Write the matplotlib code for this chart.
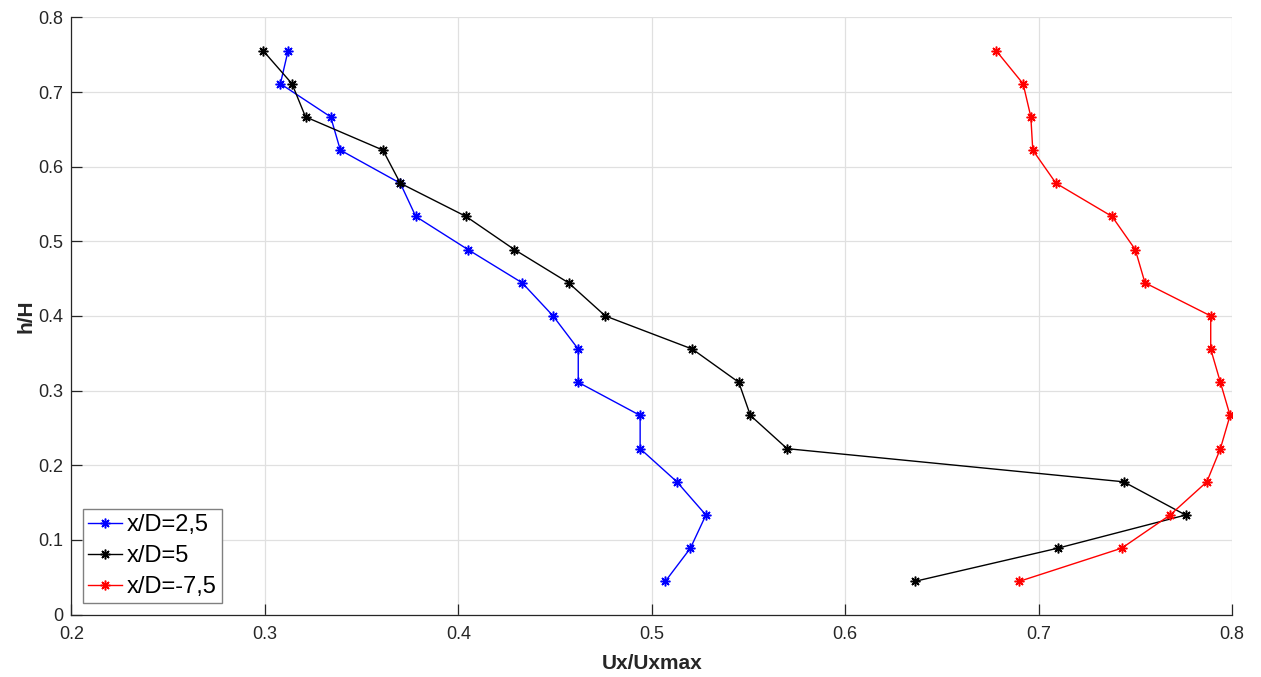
import matplotlib.pyplot as plt

plt.rcParams['font.family'] = ['Liberation Sans', 'DejaVu Sans']

# h/H stations (shared by all profiles)
h_over_H = [0.0444, 0.0889, 0.1333, 0.1778, 0.2222, 0.2667, 0.3111, 0.3556, 0.4000,
            0.4444, 0.4889, 0.5333, 0.5778, 0.6222, 0.6667, 0.7111, 0.7556]

# Ux/Uxmax for each downstream position
u_xd_2_5 = [0.507, 0.520, 0.528, 0.513, 0.494, 0.494, 0.462, 0.462, 0.449,
            0.433, 0.405, 0.378, 0.370, 0.339, 0.334, 0.308, 0.312]
u_xd_5 = [0.636, 0.710, 0.776, 0.744, 0.570, 0.551, 0.545, 0.521, 0.476,
          0.457, 0.429, 0.404, 0.370, 0.361, 0.321, 0.314, 0.299]
u_xd_m7_5 = [0.690, 0.743, 0.768, 0.787, 0.794, 0.799, 0.794, 0.789, 0.789,
             0.755, 0.750, 0.738, 0.709, 0.697, 0.696, 0.692, 0.678]

labels = ['x/D=2,5', 'x/D=5', 'x/D=-7,5']
colors = ['#0000ff', '#000000', '#ff0000']

fig = plt.figure(figsize=(12.61, 6.77), dpi=100)
ax = fig.add_axes([0.0567, 0.0923, 0.9203, 0.882])

# matlab-style asterisk marker (4 crossing strokes)
asterisk = (8, 2, 0)
for u, lab, c in zip([u_xd_2_5, u_xd_5, u_xd_m7_5], labels, colors):
    ax.plot(u, h_over_H, color=c, marker=asterisk, markersize=7, markeredgewidth=1.1,
            linewidth=1.0, label=lab)

ax.set_xlim(0.2, 0.8)
ax.set_ylim(0, 0.8)
ax.set_xticks([0.2, 0.3, 0.4, 0.5, 0.6, 0.7, 0.8])
ax.set_yticks([0, 0.1, 0.2, 0.3, 0.4, 0.5, 0.6, 0.7, 0.8])
ax.set_xticklabels(['0.2', '0.3', '0.4', '0.5', '0.6', '0.7', '0.8'])
ax.set_yticklabels(['0', '0.1', '0.2', '0.3', '0.4', '0.5', '0.6', '0.7', '0.8'])

ax.grid(True, color='#e0e0e0', linewidth=0.9)
ax.set_axisbelow(True)
ax.spines['top'].set_visible(False)
ax.spines['right'].set_visible(False)
for s in ['left', 'bottom']:
    ax.spines[s].set_color('#262626')
    ax.spines[s].set_linewidth(0.9)
ax.tick_params(direction='in', length=8, width=0.9, color='#262626',
               labelsize=13, labelcolor='#262626')
ax.tick_params(axis='x', pad=8)
ax.tick_params(axis='y', pad=6)

ax.set_xlabel('Ux/Uxmax', fontsize=15, fontweight='bold', color='#262626', labelpad=8)
ax.set_ylabel('h/H', fontsize=15, fontweight='bold', color='#262626', labelpad=2)

leg = ax.legend(loc='lower left', bbox_to_anchor=(0.004, 0.008), fontsize=17,
                fancybox=False, edgecolor='#808080', framealpha=1,
                handlelength=1.45, handletextpad=0.2, borderpad=0.2,
                labelspacing=0.38, borderaxespad=0.3)
leg.get_frame().set_linewidth(1.0)

plt.savefig('out.png', dpi=100)
